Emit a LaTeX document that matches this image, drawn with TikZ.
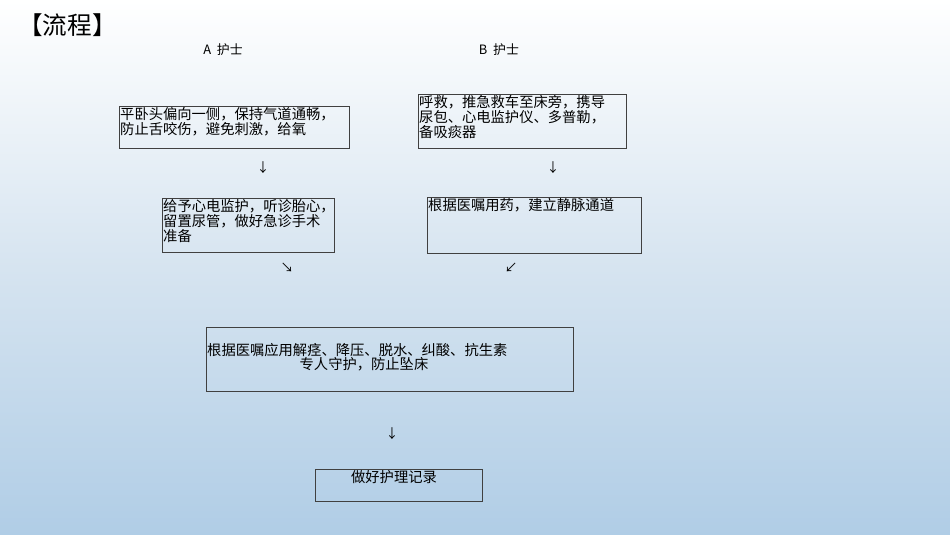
\documentclass[tikz,border=0pt]{standalone}
\usepackage{fontspec}
\setmainfont{Noto Sans CJK SC}
\usetikzlibrary{positioning}
\definecolor{bgtop}{RGB}{255,255,255}
\definecolor{bgmid}{RGB}{214,228,240}
\definecolor{bgbot}{RGB}{176,205,230}

\tikzset{
  box/.style={draw=black!75, line width=0.5pt},
  txt/.style={inner sep=0pt, align=left, anchor=north west, font=\fontsize{12.2pt}{13pt}\selectfont},
  arr/.style={inner sep=0pt, font=\fontsize{11pt}{12pt}\selectfont},
}

\begin{document}
\begin{tikzpicture}[x=0.03cm,y=-0.03cm]
  \useasboundingbox (0,0) rectangle (950,535);
  \shade[top color=bgtop, bottom color=bgbot, middle color=bgmid] (0,0) rectangle (950,535);

  \node[anchor=west, inner sep=0pt, font=\fontsize{21pt}{22pt}\selectfont] (title) at (18,25) {【流程】};
  \node[arr] (headA) at (223,50) {A\ \ 护士};
  \node[arr] (headB) at (499,50) {B\ \ 护士};

  % boxes
  \draw[box] (119,106) rectangle (349,148);
  \node[txt] (a1) at (120,107) {平卧头偏向一侧，保持气道通畅，\\防止舌咬伤，避免刺激，给氧};
  \draw[box] (418,94) rectangle (626,148);
  \node[txt] (b1) at (419,95) {呼救，推急救车至床旁，携导\\尿包、心电监护仪、多普勒，\\备吸痰器};
  \draw[box] (162,198) rectangle (334,252);
  \node[txt] (a2) at (163,199) {给予心电监护，听诊胎心，\\留置尿管，做好急诊手术\\准备};
  \draw[box] (427,197) rectangle (641,253);
  \node[txt] (b2) at (428,198) {根据医嘱用药，建立静脉通道};
  \draw[box] (206,327) rectangle (573,391);
  \node[txt] (c1) at (207,343) {根据医嘱应用解痉、降压、脱水、纠酸、抗生素};
  \node[txt, anchor=north] (c2) at (364,357) {专人守护，防止坠床};
  \draw[box] (315,469) rectangle (482,501);
  \node[txt, anchor=north] (d1) at (394,470) {做好护理记录};

  % arrows as glyphs
  \node[arr] (ar1) at (263,168) {↓};
  \node[arr] (ar2) at (553,168) {↓};
  \node[arr] (ar3) at (287,268) {↘};
  \node[arr] (ar4) at (511,268) {↙};
  \node[arr] (ar5) at (392,434) {↓};
\end{tikzpicture}
\end{document}
